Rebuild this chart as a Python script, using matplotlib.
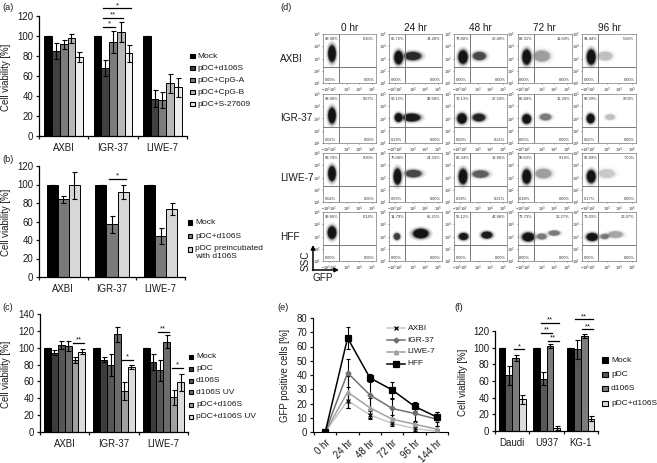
import matplotlib
matplotlib.use("Agg")
import matplotlib.pyplot as plt
from matplotlib.patches import Rectangle, Ellipse, FancyArrowPatch
from matplotlib.lines import Line2D
import numpy as np

plt.rcParams['font.family'] = ['Liberation Sans', 'DejaVu Sans']
plt.rcParams['mathtext.default'] = 'regular'
W, H = 657, 463
fig = plt.figure(figsize=(W / 100, H / 100), dpi=100)

TXT = '#1a1a1a'
FS = 6.9
LEG = 6.0


def P(x, y):
    return x / W, 1 - y / H


def add_axes(x0, x1, ytop, ybot):
    return fig.add_axes([x0 / W, 1 - ybot / H, (x1 - x0) / W, (ybot - ytop) / H])


def legend(names, colors, xs0, xs1, xt, ys, sizes=LEG):
    for n, c, y in zip(names, colors, ys):
        s = xs1 - xs0
        fig.add_artist(Rectangle((xs0 / W, 1 - (y + s / 2) / H), s / W, s / H, transform=fig.transFigure,
                                 facecolor=c, edgecolor='black', linewidth=0.8))
        if '\n' in n:
            fig.text(*P(xt, y - 4.5), n, fontsize=sizes, va='top', ha='left', color=TXT, linespacing=1.25)
        else:
            fig.text(*P(xt, y), n, fontsize=sizes, va='center', ha='left', color=TXT)


def bar_panel(rect, groups, series, errs, colors, ymax, ystep, span, ylabel, brackets, ylab_x):
    ax = add_axes(*rect)
    n = len(series)
    w = span / n
    offs = (np.arange(n) - (n - 1) / 2) * w
    for i, (vals, err, c) in enumerate(zip(series, errs, colors)):
        xs = np.arange(len(groups)) + offs[i]
        ax.bar(xs, vals, width=w, color=c, edgecolor='black', linewidth=0.7, zorder=2)
        ax.errorbar(xs, vals, yerr=err, fmt='none', ecolor='black', elinewidth=0.8,
                    capsize=1.8, capthick=0.8, zorder=3)
    ax.set_xlim(-0.5, len(groups) - 0.5)
    ax.set_ylim(0, ymax)
    ax.set_yticks(np.arange(0, ymax + 1, ystep))
    ax.set_xticks(np.arange(len(groups) + 1) - 0.5)
    ax.set_xticklabels([])
    ax.set_xticks(np.arange(len(groups)), minor=True)
    ax.set_xticklabels(groups, minor=True, fontsize=FS, color=TXT)
    ax.tick_params(axis='x', which='minor', length=0, pad=5.2)
    ax.tick_params(axis='both', which='major', length=2.5, width=0.9, labelsize=FS, colors=TXT, pad=1.5)
    for s in ('top', 'right'):
        ax.spines[s].set_visible(False)
    for s in ('left', 'bottom'):
        ax.spines[s].set_linewidth(0.9)
    fig.text(*P(ylab_x, (rect[2] + rect[3]) / 2 + 1), ylabel, rotation=90, fontsize=FS, color=TXT,
             va='center', ha='center')
    for g, a, b, v, lab in brackets:
        xa, xb = g + offs[a], g + offs[b]
        ax.plot([xa - w * 0.3, xb + w * 0.3], [v, v], color='black', lw=0.9, clip_on=False, zorder=4)
        ax.text((xa + xb) / 2, v - ymax * 0.006, lab, ha='center', va='bottom', fontsize=5.5, clip_on=False, color=TXT)
    return ax


# ---------- data ----------
groups_abc = ['AXBI', 'IGR-37', 'LIWE-7']

a_names = ['Mock', 'pDC+d106S', 'pDC+CpG-A', 'pDC+CpG-B', 'pDC+S-27609']
a_colors = ['#000000', '#404040', '#7c7c7c', '#b8b8b8', '#eeeeee']
a_mock = [100, 100, 100]
a_d106 = [85, 68, 37.5]
a_cpga = [92, 94, 36]
a_cpgb = [98, 104.5, 53]
a_s276 = [79, 83, 49]
a_e_mock = [0, 0, 0]
a_e_d106 = [8, 8, 8.5]
a_e_cpga = [4.5, 11, 8]
a_e_cpgb = [4.5, 10, 9.5]
a_e_s276 = [5, 8.5, 9.5]

b_names = ['Mock', 'pDC+d106S', 'pDC preincubated\nwith d106S']
b_colors = ['#000000', '#7a7a7a', '#d8d8d8']
b_mock = [100, 100, 100]
b_d106 = [84, 57, 44]
b_pre = [99, 92, 73]
b_e_mock = [0, 0, 0]
b_e_d106 = [3.5, 9, 8.5]
b_e_pre = [15, 7.5, 6.5]

c_names = ['Mock', 'pDC', 'd106S', 'd106S UV', 'pDC+d106S', 'pDC+d106S UV']
c_colors = ['#000000', '#3c3c3c', '#565656', '#6c6c6c', '#a0a0a0', '#dcdcdc']
c_mock = [100, 100, 100]
c_pdc = [94, 86, 83]
c_d106 = [103, 80, 73]
c_d106uv = [102, 116, 107]
c_pd = [85, 48.5, 41]
c_pduv = [95, 77.5, 59]
c_e_mock = [0, 0, 0]
c_e_pdc = [3, 2.5, 10]
c_e_d106 = [4.5, 13, 12]
c_e_d106uv = [5.5, 9, 7.5]
c_e_pd = [3.5, 10.5, 9]
c_e_pduv = [3, 2.5, 10]

e_hours = ['0 hr', '24 hr', '48 hr', '72 hr', '96 hr', '144 hr']
e_axbi = [0, 22, 12, 6, 2.5, 0.5]
e_igr = [0, 41.5, 26, 16.5, 13, 9]
e_liwe = [0, 28, 17, 9, 5.5, 2]
e_hff = [0, 66, 38, 29.5, 18, 10.5]
e_e_axbi = [0, 5, 3, 2, 1.5, 1]
e_e_igr = [0, 10, 10, 7, 6, 5]
e_e_liwe = [0, 11, 7, 3, 2, 2]
e_e_hff = [0, 8, 3, 5.5, 3, 3.5]

f_groups = ['Daudi', 'U937', 'KG-1']
f_names = ['Mock', 'pDC', 'd106S', 'pDC+d106S']
f_colors = ['#000000', '#585858', '#7c7c7c', '#dcdcdc']
f_mock = [100, 100, 100]
f_pdc = [67, 63, 98]
f_d106 = [87.5, 102, 114]
f_pd = [38, 3.5, 15]
f_e_mock = [0, 0, 0]
f_e_pdc = [11.5, 8, 11]
f_e_d106 = [4, 2, 2.5]
f_e_pd = [5, 2.5, 2.5]

# (group, bar from, bar to, value, stars)
a_sig = [(1, 1, 4, 128, '*'), (1, 1, 3, 118.5, '**'), (1, 1, 2, 109.5, '*')]
b_sig = [(1, 1, 2, 106, '*')]
c_sig = [(0, 4, 5, 105.5, '**'), (1, 4, 5, 85.5, '*'), (2, 2, 3, 119, '**'), (2, 4, 5, 76, '*')]
f_sig = [(0, 2, 3, 98, '*'), (1, 1, 3, 130, '**'), (1, 1, 2, 118, '**'), (1, 2, 3, 108, '**'),
         (2, 1, 3, 134, '**'), (2, 2, 3, 122, '**')]

# ---------- bar panels ----------
bar_panel((39, 187, 16.3, 136), groups_abc, [a_mock, a_d106, a_cpga, a_cpgb, a_s276],
          [a_e_mock, a_e_d106, a_e_cpga, a_e_cpgb, a_e_s276], a_colors, 120, 20, 0.79,
          'Cell viability [%]', a_sig, 6)
bar_panel((39, 185, 166, 277), groups_abc, [b_mock, b_d106, b_pre], [b_e_mock, b_e_d106, b_e_pre],
          b_colors, 120, 20, 0.68, 'Cell viability [%]', b_sig, 6)
bar_panel((40, 188, 314, 432), groups_abc, [c_mock, c_pdc, c_d106, c_d106uv, c_pd, c_pduv],
          [c_e_mock, c_e_pdc, c_e_d106, c_e_d106uv, c_e_pd, c_e_pduv], c_colors, 140, 20, 0.84,
          'Cell viability [%]', c_sig, 6)
bar_panel((495, 598, 331, 431), f_groups, [f_mock, f_pdc, f_d106, f_pd],
          [f_e_mock, f_e_pdc, f_e_d106, f_e_pd], f_colors, 120, 20, 0.79,
          'Cell viability [%]', f_sig, 463)

legend(a_names, a_colors, 190, 194.5, 197.5, [56, 68, 80, 92, 104])
legend(b_names, b_colors, 187.5, 192, 195, [222.7, 236, 249.3])
legend(c_names, c_colors, 188.7, 193, 196, [356.7, 369, 380.7, 392.3, 404.7, 416.7])
legend(f_names, f_colors, 602, 607.5, 611, [360, 374.3, 388.3, 403.3])

# ---------- line panel (e) ----------
ax = add_axes(313, 448, 318, 432)
xpos = np.arange(len(e_hours))
e_series = [
    ('AXBI', e_axbi, e_e_axbi, '#c8c8c8', 'x', 3.2),
    ('LIWE-7', e_liwe, e_e_liwe, '#a0a0a0', '^', 3.2),
    ('IGR-37', e_igr, e_e_igr, '#707070', 'D', 2.6),
    ('HFF', e_hff, e_e_hff, '#000000', 's', 4.2),
]
for name, vals, err, c, m, ms in e_series:
    ax.errorbar(xpos, vals, yerr=err, fmt='none', ecolor='black', elinewidth=0.8, capsize=1.5, capthick=0.8, zorder=3)
    mc = 'black' if m == 'x' else c
    ax.plot(xpos, vals, color=c, lw=1.1, marker=m, ms=ms, mfc=mc, mec=mc, mew=0.9, zorder=4)
ax.set_xlim(-0.55, 5.45)
ax.set_ylim(0, 80)
ax.set_yticks(np.arange(0, 81, 10))
ax.set_xticks(np.arange(7) - 0.5)
ax.set_xticklabels([])
ax.set_xticks(xpos, minor=True)
ax.set_xticklabels(e_hours, minor=True, rotation=45, ha='right', rotation_mode='anchor', fontsize=FS, color=TXT)
ax.tick_params(axis='x', which='minor', length=0, pad=4)
ax.tick_params(axis='both', which='major', length=2.5, width=0.9, labelsize=FS, colors=TXT, pad=1.5)
for s in ('top', 'right'):
    ax.spines[s].set_visible(False)
fig.text(*P(284.5, 375), 'GFP positive cells [%]', rotation=90, fontsize=FS, va='center', ha='center', color=TXT)
for (name, c, m, ms, y) in [('AXBI', '#c8c8c8', 'x', 3.2, 328.3), ('IGR-37', '#707070', 'D', 2.6, 340),
                            ('LIWE-7', '#a0a0a0', '^', 3.2, 351.7), ('HFF', '#000000', 's', 4.2, 363.7)]:
    mc = 'black' if m == 'x' else c
    fig.add_artist(Line2D([387.3 / W, 396 / W, 405 / W], [1 - y / H] * 3, color=c, lw=1.1, marker=m, ms=ms,
                          mfc=mc, mec=mc, mew=0.9, markevery=[1], transform=fig.transFigure))
    fig.text(*P(407.7, y), name, fontsize=LEG, va='center', ha='left', color=TXT)

# ---------- flow cytometry (d) ----------
col_x = [(323, 376), (389, 442), (454, 507), (517.5, 571.5), (582, 636)]
row_y = [(34, 83), (94, 143), (153, 202), (212, 261)]
col_names = ['0 hr', '24 hr', '48 hr', '72 hr', '96 hr']
row_names = ['AXBI', 'IGR-37', 'LIWE-7', 'HFF']
flow_ul = [['99.90%', '65.72%', '79.60%', '88.31%', '94.44%'],
           ['99.90%', '50.12%', '72.13%', '86.69%', '90.39%'],
           ['99.76%', '75.08%', '86.24%', '90.63%', '92.69%'],
           ['99.86%', '14.79%', '56.12%', '73.73%', '73.03%']]
flow_ur = [['0.10%', '34.28%', '20.40%', '11.69%', '5.58%'],
           ['0.07%', '49.58%', '27.59%', '13.26%', '9.59%'],
           ['0.20%', '24.33%', '13.86%', '9.19%', '7.00%'],
           ['0.14%', '85.21%', '43.88%', '26.27%', '26.97%']]
flow_ll = [['0.00%', '0.00%', '0.00%', '0.00%', '0.00%'],
           ['0.02%', '0.29%', '0.08%', '0.05%', '0.02%'],
           ['0.04%', '0.59%', '0.38%', '0.18%', '0.17%'],
           ['0.00%', '0.00%', '0.00%', '0.00%', '0.00%']]
flow_lr = [['0.00%'] * 5,
           ['0.00%', '0.00%', '0.21%', '0.00%', '0.00%'],
           ['0.00%', '0.00%', '0.21%', '0.00%', '0.00%'],
           ['0.00%'] * 5]
# clouds per panel: (x centre, y centre, x radius, y radius, darkness), axis fractions
flow_clouds = [
    [[(.17, .60, .09, .21, 1)],
     [(.18, .52, .10, .17, 1), (.45, .55, .20, .11, .7)],
     [(.17, .53, .11, .17, 1), (.48, .55, .16, .11, .5)],
     [(.17, .53, .10, .19, 1), (.45, .55, .20, .15, .2)],
     [(.17, .53, .10, .19, 1), (.43, .55, .18, .12, .12)]],
    [[(.17, .56, .09, .20, 1)],
     [(.18, .52, .09, .11, 1), (.43, .52, .20, .10, .9)],
     [(.15, .50, .11, .13, 1), (.47, .52, .15, .10, .75)],
     [(.17, .49, .10, .12, 1), (.52, .53, .14, .09, .3)],
     [(.16, .50, .09, .12, 1), (.52, .53, .12, .08, .12)]],
    [[(.17, .58, .09, .19, 1)],
     [(.16, .52, .09, .20, 1), (.46, .58, .20, .10, .5)],
     [(.17, .52, .10, .19, 1), (.50, .57, .20, .10, .4)],
     [(.17, .52, .10, .18, 1), (.48, .58, .20, .13, .2)],
     [(.17, .52, .10, .16, 1), (.46, .58, .20, .12, .1)]],
    [[(.17, .58, .10, .16, 1)],
     [(.15, .50, .08, .09, .55), (.60, .56, .18, .12, 1)],
     [(.18, .50, .11, .09, .9), (.62, .53, .13, .09, .85)],
     [(.20, .49, .14, .11, 1), (.68, .57, .14, .07, .3), (.45, .50, .12, .08, .3)],
     [(.19, .49, .13, .10, 1), (.62, .54, .18, .09, .18), (.42, .50, .10, .07, .3)]],
]
flow_xticks = [.11, .46, .68, .92]
flow_xlabels = [r'$-10^{3}10^{2}$', r'$10^{3}$', r'$10^{4}$', r'$10^{5}$']
flow_yticks = [.0, .24, .5, .75, 1.0]
flow_ylabels = [r'$10^{1}$', r'$10^{2}$', r'$10^{3}$', r'$10^{4}$', r'$10^{5}$']
cloud_scale = [1.3, 1.15, 1.0, .9, .8, .7]
cloud_alpha = [.08, .12, .2, .4, .7, .9]
for r, (yt, yb) in enumerate(row_y):
    for c, (xl, xr) in enumerate(col_x):
        ax = add_axes(xl, xr, yt, yb)
        ax.set_xlim(0, 1)
        ax.set_ylim(0, 1)
        for cx, cy, rx, ry, d in flow_clouds[r][c]:
            for fac, al in zip(cloud_scale, cloud_alpha):
                ax.add_patch(Ellipse((cx, cy), 2 * rx * fac, 2 * ry * fac, facecolor='#111111',
                                     alpha=min(1, d * al), lw=0, zorder=2))
        ax.axvline(.30, color='#777777', lw=0.7, zorder=3)
        ax.axhline(.33, color='#777777', lw=0.7, zorder=3)
        for x, y, t, ha in [(.03, .9, flow_ul[r][c], 'left'), (.97, .9, flow_ur[r][c], 'right'),
                            (.03, .055, flow_ll[r][c], 'left'), (.97, .055, flow_lr[r][c], 'right')]:
            ax.text(x, y, t, fontsize=2.9, ha=ha, va='center', color='#333333', zorder=5)
        ax.set_xticks(flow_xticks)
        ax.set_xticklabels(flow_xlabels, fontsize=2.9, color='#333333')
        ax.set_yticks(flow_yticks)
        ax.set_yticklabels(flow_ylabels, fontsize=2.9, color='#333333')
        ax.tick_params(length=1, width=0.4, pad=0.6, colors='#333333')
        for s in ax.spines.values():
            s.set_linewidth(0.5)
            s.set_color('#777777')
for c, name in enumerate(col_names):
    fig.text(*P(sum(col_x[c]) / 2, 28), name, fontsize=7.2, ha='center', va='center', color=TXT)
for r, name in enumerate(row_names):
    fig.text(*P(280, [59.5, 118, 178, 237][r]), name, fontsize=7.2, ha='left', va='center', color=TXT)

fig.add_artist(FancyArrowPatch(P(313, 270.5), P(313, 245), transform=fig.transFigure, arrowstyle='-|>',
                               mutation_scale=6, lw=1.1, color='black', shrinkA=0, shrinkB=0))
fig.add_artist(FancyArrowPatch(P(312.5, 270), P(339, 270), transform=fig.transFigure, arrowstyle='-|>',
                               mutation_scale=6, lw=1.1, color='black', shrinkA=0, shrinkB=0))
fig.text(*P(306, 261), 'SSC', rotation=90, fontsize=7.2, ha='center', va='center', color=TXT)
fig.text(*P(323, 278), 'GFP', fontsize=7.2, ha='center', va='center', color=TXT)

# ---------- panel letters ----------
for lab, x, y in [('(a)', 2, 7.5), ('(b)', 2, 159), ('(c)', 2, 308), ('(d)', 280, 7.5), ('(e)', 277, 308), ('(f)', 454, 308)]:
    fig.text(*P(x, y), lab, fontsize=6.6, ha='left', va='center', color=TXT)

fig.savefig('out.png', dpi=100)
